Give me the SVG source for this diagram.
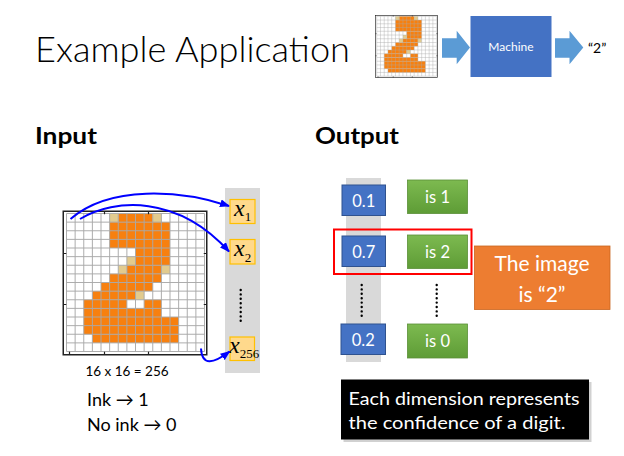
<svg xmlns="http://www.w3.org/2000/svg" xmlns:xlink="http://www.w3.org/1999/xlink" width="624" height="456" viewBox="0 0 624 456">
<style>
.t{font-family:Lato,"Open Sans","DejaVu Sans",sans-serif}
.wt{fill:#fff}
.blue{fill:#4472C4;stroke:#2F528F;stroke-width:1}
.green{fill:url(#gg);stroke:#5A8F37;stroke-width:0.8}
.xbox{fill:#FFD98C;stroke:#FFC000;stroke-width:1.2}
.xl{font-family:"Liberation Serif","Times New Roman",serif;font-style:italic;fill:#000}
.sub{font-style:normal}
.dots{stroke:#000;stroke-width:2.4;stroke-linecap:round;stroke-dasharray:0 4.4;fill:none}
.curve{fill:none;stroke:#0000FF;stroke-width:2;marker-end:url(#ah)}
.barrow{fill:#5B9BD5}
</style>
<defs>
<linearGradient id="gg" x1="0" y1="0" x2="0" y2="1">
<stop offset="0" stop-color="#7DBA50"/>
<stop offset="1" stop-color="#5E9C36"/>
</linearGradient>
<marker id="ah" viewBox="0 0 10 8" refX="9" refY="4" markerWidth="5" markerHeight="4" orient="auto" markerUnits="strokeWidth">
<path d="M0,0L10,4L0,8z" fill="#0000FF"/>
</marker>
<g id="digitArt">
<rect x="0" y="0" width="145" height="145" fill="#fff"/>
<g transform="translate(4,3) scale(8.625)">
<g fill="#F7800F">
<rect x="6" y="0" width="4" height="1"/>
<rect x="5" y="1" width="7" height="3"/>
<rect x="8" y="4" width="4" height="2"/>
<rect x="7" y="6" width="4" height="1"/>
<rect x="5" y="7" width="6" height="1"/>
<rect x="4" y="8" width="6" height="1"/>
<rect x="3" y="9" width="5" height="1"/>
<rect x="2" y="10" width="5" height="1"/>
<rect x="9" y="10" width="2" height="1"/>
<rect x="2" y="11" width="9" height="1"/>
<rect x="2" y="12" width="11" height="2"/>
<rect x="3" y="14" width="10" height="1"/>
</g>
<g fill="#E2CB8E">
<rect x="5" y="0" width="1" height="1"/>
<rect x="10" y="0" width="1" height="1"/>
<rect x="7" y="5" width="1" height="1"/>
<rect x="6" y="6" width="1" height="1"/>
<rect x="11" y="6" width="1" height="1"/>
<rect x="8" y="9" width="1" height="1"/>
</g>
<path fill="none" stroke="#A8A8A8" stroke-width="0.11" d="M0 0V16M1 0V16M2 0V16M3 0V16M4 0V16M5 0V16M6 0V16M7 0V16M8 0V16M9 0V16M10 0V16M11 0V16M12 0V16M13 0V16M14 0V16M15 0V16M16 0V16M0 0H16M0 1H16M0 2H16M0 3H16M0 4H16M0 5H16M0 6H16M0 7H16M0 8H16M0 9H16M0 10H16M0 11H16M0 12H16M0 13H16M0 14H16M0 15H16M0 16H16"/>
</g>
<rect x="0.75" y="0.75" width="143.5" height="143.5" fill="none" stroke="#222" stroke-width="1.5"/>
<path fill="none" stroke="#222" stroke-width="1.2" d="M0.75 43h3M0.75 94h3M144.25 43h-3M144.25 94h-3M42 0.75v3M86 0.75v3M7 144.25v-3M42 144.25v-3M86 144.25v-3"/>
</g>
</defs>

<rect x="0" y="0" width="624" height="456" fill="#fff"/>

<g id="title">
<text class="t" x="35" y="62" font-size="35" font-weight="300" fill="#000" textLength="315" lengthAdjust="spacingAndGlyphs">Example Application</text>
</g>

<g id="mini-digit">
<use xlink:href="#digitArt" transform="translate(375,15) scale(0.434)"/>
</g>

<g id="machine">
<rect x="470.5" y="16" width="81" height="61" fill="#4472C4"/>
<text class="t wt" x="511" y="51" font-size="12" text-anchor="middle">Machine</text>
</g>

<g id="result-2">
<text class="t" x="588" y="53" font-size="14" fill="#000">“2”</text>
</g>

<g id="input-label">
<text class="t" x="35" y="144" font-size="23" font-weight="bold" fill="#000" textLength="62" lengthAdjust="spacingAndGlyphs">Input</text>
</g>

<g id="output-label">
<text class="t" x="315" y="144" font-size="23" font-weight="bold" fill="#000" textLength="84" lengthAdjust="spacingAndGlyphs">Output</text>
</g>

<g id="digit-grid">
<use xlink:href="#digitArt" transform="translate(62.5,210.5)"/>
<text class="t" x="127" y="375.5" font-size="13.5" text-anchor="middle" fill="#000">16 x 16 = 256</text>
</g>

<g id="ink-notes">
<text class="t" x="87" y="405.5" font-size="18" fill="#000">Ink → 1</text>
<text class="t" x="87" y="431" font-size="18" fill="#000">No ink → 0</text>
</g>

<g id="input-vector">
<rect x="225" y="188" width="35" height="185" fill="#D9D9D9"/>
<g id="x1">
<rect class="xbox" x="230" y="199.5" width="25" height="24"/>
<text class="xl" x="234" y="215.5" font-size="24">x<tspan class="sub" font-size="13" dy="5.5">1</tspan></text>
</g>
<g id="x2">
<rect class="xbox" x="230" y="239.5" width="25" height="24.5"/>
<text class="xl" x="234" y="255.5" font-size="24">x<tspan class="sub" font-size="13" dy="6.5">2</tspan></text>
</g>
<path class="dots" d="M240.7 290V321"/>
<g id="x256">
<rect class="xbox" x="230" y="337" width="24.5" height="23.5"/>
<text class="xl" x="229" y="353" font-size="24">x<tspan class="sub" font-size="13" dy="4.5">256</tspan></text>
</g>
</g>

<g id="output-vector">
<rect x="346" y="178" width="35" height="184" fill="#D9D9D9"/>
<g id="p1">
<rect class="blue" x="342" y="185" width="43.5" height="30.5"/>
<text class="t wt" x="363.7" y="206.5" font-size="16.5" text-anchor="middle">0.1</text>
</g>
<g id="p2">
<rect class="blue" x="342" y="236" width="43.5" height="30.5"/>
<text class="t wt" x="363.7" y="257.5" font-size="16.5" text-anchor="middle">0.7</text>
</g>
<path class="dots" d="M361.7 285V318"/>
<g id="p0">
<rect class="blue" x="341" y="324" width="44.5" height="30.5"/>
<text class="t wt" x="363.2" y="345.5" font-size="16.5" text-anchor="middle">0.2</text>
</g>
</g>

<g id="labels">
<g id="is1">
<rect class="green" x="407.5" y="180" width="60" height="33.5"/>
<text class="t wt" x="437.5" y="202.5" font-size="16.5" text-anchor="middle">is 1</text>
</g>
<g id="is2">
<rect class="green" x="407.5" y="235" width="60" height="33.5"/>
<text class="t wt" x="437.5" y="257.5" font-size="16.5" text-anchor="middle">is 2</text>
</g>
<path class="dots" d="M436.7 285V318"/>
<g id="is0">
<rect class="green" x="407.5" y="324" width="60" height="34"/>
<text class="t wt" x="437.5" y="346.5" font-size="16.5" text-anchor="middle">is 0</text>
</g>
</g>

<g id="highlight">
<rect x="334" y="229.5" width="137.5" height="44.5" fill="none" stroke="#FF0000" stroke-width="2"/>
</g>

<g id="answer">
<rect x="474.5" y="246" width="135.5" height="63.5" fill="#ED7D31" stroke="#C9651F" stroke-width="0.8"/>
<text class="t wt" x="542" y="271" font-size="21" text-anchor="middle">The image</text>
<text class="t wt" x="542" y="301.5" font-size="21" text-anchor="middle">is “2”</text>
</g>

<g id="note">
<rect x="343.5" y="382" width="248" height="60" fill="#9A9A9A" opacity="0.45"/>
<rect x="341" y="379.5" width="248" height="60" fill="#000"/>
<text class="t wt" x="348.5" y="404.5" font-size="17.5" textLength="231" lengthAdjust="spacingAndGlyphs">Each dimension represents</text>
<text class="t wt" x="348.5" y="428.5" font-size="17.5" textLength="217" lengthAdjust="spacingAndGlyphs">the confidence of a digit.</text>
</g>

<g id="connectors">
<path class="barrow" d="M442 38.3H456.7V30.7L470 47.5L456.7 64.3V57.7H442Z"/>
<path class="barrow" d="M555 38.3H569.5V30.7L583.3 47.5L569.5 64.3V57.7H555Z"/>
<path class="curve" d="M70.5 219C110 185 180 190 229 206"/>
<path class="curve" d="M80 219C115 198 178 195 229 251.5"/>
<path class="curve" d="M201 348.5C202 366 213 364 229.5 351.5"/>
</g>
</svg>
